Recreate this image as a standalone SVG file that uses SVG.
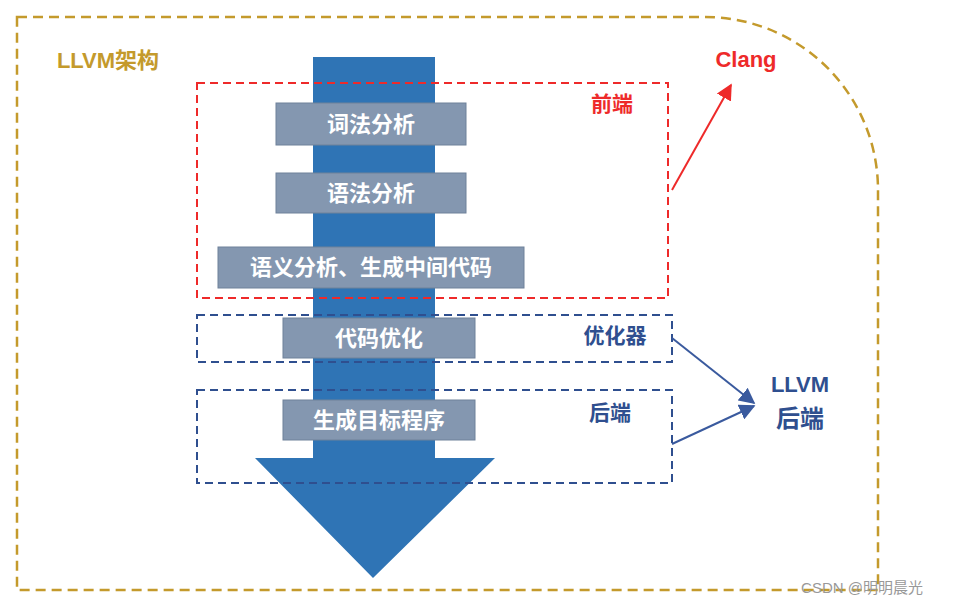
<svg xmlns="http://www.w3.org/2000/svg" width="956" height="606" viewBox="0 0 956 606">
<defs>
<style>
.box{fill:#8497B0;stroke:#6f819a;stroke-width:1}
.bt{font-family:"Noto Sans CJK SC",sans-serif;font-size:22px;fill:#fff;font-weight:bold;text-anchor:middle}
.lab{font-family:"Liberation Sans","Noto Sans CJK SC",sans-serif;font-weight:bold;text-anchor:middle}
</style>
<marker id="ar" viewBox="0 0 10 10" refX="9" refY="5" markerWidth="8" markerHeight="8" orient="auto"><path d="M0,0L10,5L0,10z" fill="#EE2A2A"/></marker>
<marker id="ab" viewBox="0 0 10 10" refX="9" refY="5" markerWidth="8" markerHeight="8" orient="auto"><path d="M0,0L10,5L0,10z" fill="#3A5A9E"/></marker>
</defs>
<rect width="956" height="606" fill="#fff"/>
<path d="M17,17H705A173,173 0 0 1 878,190V590H17Z" fill="none" stroke="#C49A2C" stroke-width="2.5" stroke-dasharray="10,6"/>
<g id="arrow"><path d="M313,57H435V458H495L373,578L255,458H313Z" fill="#2F74B5"/></g>
<g id="frontend"><rect x="197" y="83" width="471" height="215" fill="none" stroke="#EE2A2A" stroke-width="2" stroke-dasharray="8,5"/></g>
<g id="optimizer"><rect x="197" y="315" width="475" height="47" fill="none" stroke="#2F4F8F" stroke-width="2" stroke-dasharray="8,5"/></g>
<g id="backend"><rect x="197" y="390" width="475" height="93" fill="none" stroke="#2F4F8F" stroke-width="2" stroke-dasharray="8,5"/></g>
<g id="n1"><rect class="box" x="276" y="103" width="190" height="42"/><text class="bt" x="371" y="132">词法分析</text></g>
<g id="n2"><rect class="box" x="276" y="173" width="190" height="40"/><text class="bt" x="371" y="201">语法分析</text></g>
<g id="n3"><rect class="box" x="218" y="247" width="306" height="41"/><text class="bt" x="371" y="275">语义分析、生成中间代码</text></g>
<g id="n4"><rect class="box" x="283" y="318" width="192" height="40"/><text class="bt" x="379" y="346">代码优化</text></g>
<g id="n5"><rect class="box" x="283" y="400" width="192" height="40"/><text class="bt" x="379" y="428">生成目标程序</text></g>
<text class="lab" x="108" y="68" font-size="22" fill="#C49A2C">LLVM架构</text>
<text class="lab" x="612" y="111" font-size="21" fill="#EE2A2A">前端</text>
<text class="lab" x="615" y="343" font-size="21" fill="#2F4F8F">优化器</text>
<text class="lab" x="610" y="420" font-size="21" fill="#2F4F8F">后端</text>
<text class="lab" x="746" y="67" font-size="22" fill="#EE2A2A">Clang</text>
<text class="lab" x="800" y="392" font-size="22" fill="#2F4F8F">LLVM</text>
<text class="lab" x="800" y="427" font-size="24" fill="#2F4F8F">后端</text>
<g id="connectors">
<line x1="672" y1="190" x2="731" y2="85" stroke="#EE2A2A" stroke-width="2" marker-end="url(#ar)"/>
<line x1="672" y1="338" x2="754" y2="403" stroke="#3A5A9E" stroke-width="2" marker-end="url(#ab)"/>
<line x1="672" y1="444" x2="754" y2="406" stroke="#3A5A9E" stroke-width="2" marker-end="url(#ab)"/>
</g>
<text x="862" y="593" font-family="Liberation Sans,Noto Sans CJK SC,sans-serif" font-size="15" fill="#999" text-anchor="middle">CSDN @明明晨光</text>
</svg>
